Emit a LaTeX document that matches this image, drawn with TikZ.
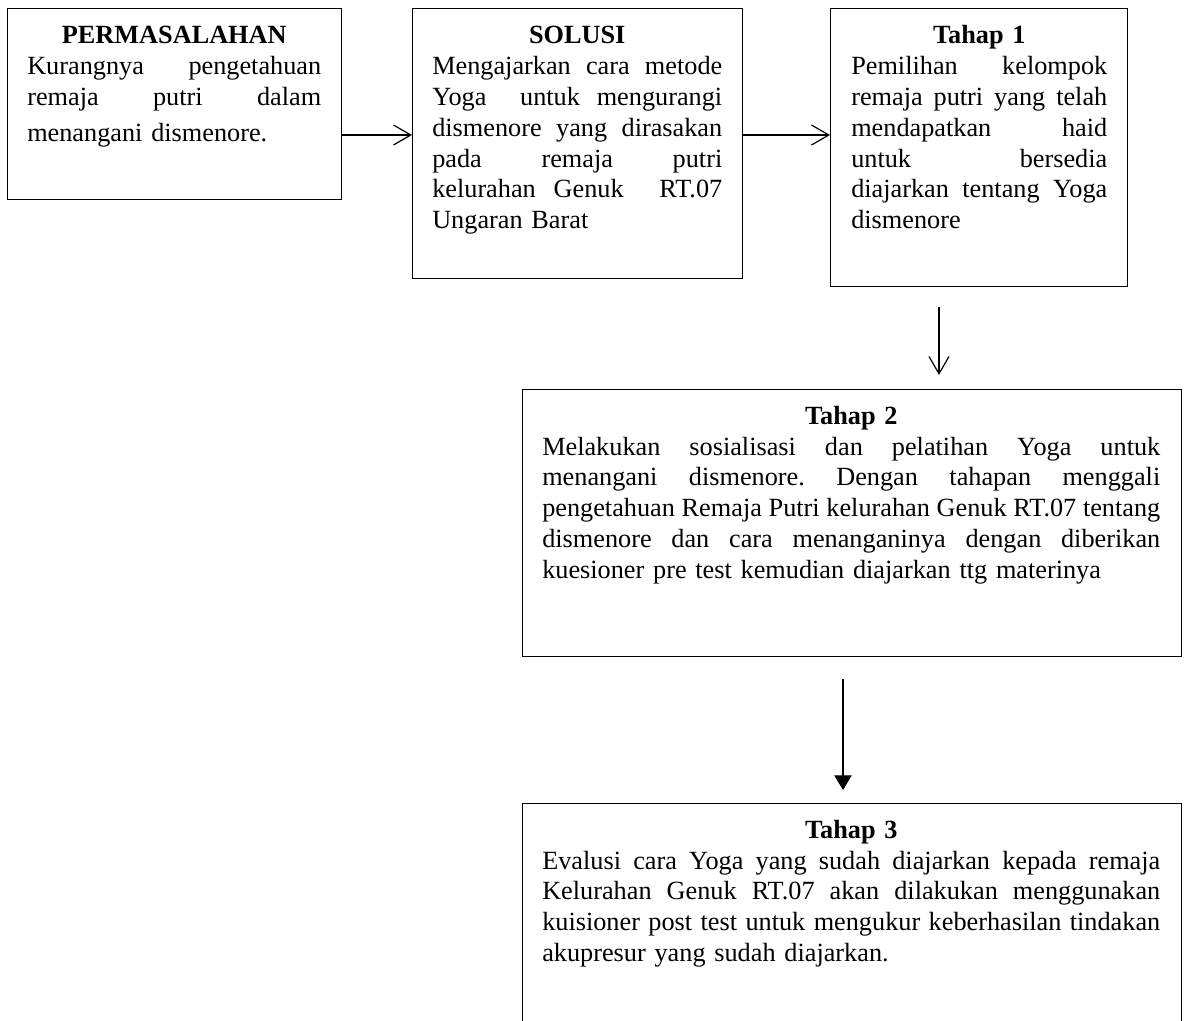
\documentclass[tikz,border=0pt]{standalone}
\usepackage{fontspec}
\setmainfont{Liberation Serif}
\usetikzlibrary{arrows.meta}
\newcommand\jlnx[1]{\hbox to\hsize{\spaceskip=0.25em plus 1fil minus 0.1em\relax#1}\par}
\newcommand\ttlx[1]{\hbox to\hsize{\strut\hfil\textbf{#1}\hfil}\par}
\newcommand\prepx{\frenchspacing\parindent=0pt\relax\parskip=0pt\relax}
\tikzset{
  boxnode/.style={draw, line width=1pt, anchor=north west, inner sep=0pt},
  txtnode/.style={anchor=north west, inner sep=0pt,
    font=\fontsize{19.7}{23.1}\selectfont},
  openarr/.style={-{Straight Barb[length=13pt,width=15pt]}, line width=0.9pt},
  fillarr/.style={-{Triangle[length=11pt,width=13pt]}, line width=0.9pt}
}
\begin{document}
\begin{tikzpicture}[x=0.75pt,y=-0.75pt]
\useasboundingbox (0,0) rectangle (1186,1021);
\fill[white] (0,0) rectangle (1186,1021);
\clip (0,0) rectangle (1186,1021);
% boxes
\node[boxnode, minimum width=250.5pt, minimum height=143.25pt] (p) at (7,8) {};
\node[boxnode, minimum width=247.5pt, minimum height=202.5pt] (s) at (412,8) {};
\node[boxnode, minimum width=222.75pt, minimum height=208.5pt] (t1) at (830,8) {};
\node[boxnode, minimum width=494.25pt, minimum height=200.25pt] (t2) at (522,389) {};
\node[boxnode, minimum width=494.25pt, minimum height=180pt] (t3) at (522,803) {};
% texts
\node[txtnode, text width=220.5pt] (pt) at (27,22) {\prepx
\ttlx{PERMASALAHAN}
\jlnx{Kurangnya pengetahuan}
\jlnx{remaja putri dalam}
\vskip3.75pt
menangani dismenore.\par};
\node[txtnode, text width=217.5pt] (st) at (432,22) {\prepx
\ttlx{SOLUSI}
\jlnx{Mengajarkan cara metode}
\jlnx{Yoga\ \ untuk mengurangi}
\jlnx{dismenore yang dirasakan}
\jlnx{pada remaja putri}
\jlnx{kelurahan Genuk\ \ RT.07}
Ungaran Barat\par};
\node[txtnode, text width=192pt] (t1t) at (851,22) {\prepx
\ttlx{Tahap 1}
\jlnx{Pemilihan kelompok}
\jlnx{remaja putri yang telah}
\jlnx{mendapatkan haid}
\jlnx{untuk bersedia}
\jlnx{diajarkan tentang Yoga}
dismenore\par};
\node[txtnode, text width=463.5pt] (t2t) at (542,402.5) {\prepx
\ttlx{Tahap 2}
\jlnx{Melakukan sosialisasi dan pelatihan Yoga untuk}
\jlnx{menangani dismenore. Dengan tahapan menggali}
\jlnx{pengetahuan Remaja Putri kelurahan Genuk RT.07 tentang}
\jlnx{dismenore dan cara menanganinya dengan diberikan}
kuesioner pre test kemudian diajarkan ttg materinya\par};
\node[txtnode, text width=463.5pt] (t3t) at (542,816.5) {\prepx
\ttlx{Tahap 3}
\jlnx{Evalusi cara Yoga yang sudah diajarkan kepada remaja}
\jlnx{Kelurahan Genuk RT.07 akan dilakukan menggunakan}
\jlnx{kuisioner post test untuk mengukur keberhasilan tindakan}
akupresur yang sudah diajarkan.\par};
% connectors
\coordinate (r1) at (0,135);
\draw[openarr] (p.east |- r1) -- (s.west |- r1);
\draw[openarr] (s.east |- r1) -- (t1.west |- r1);
\coordinate (a3s) at (939,307);
\coordinate (a3e) at (939,375);
\draw[openarr] (a3s) -- (a3e);
\coordinate (a4s) at (843,679);
\coordinate (a4e) at (843,790);
\draw[fillarr] (a4s) -- (a4e);
\end{tikzpicture}
\end{document}
